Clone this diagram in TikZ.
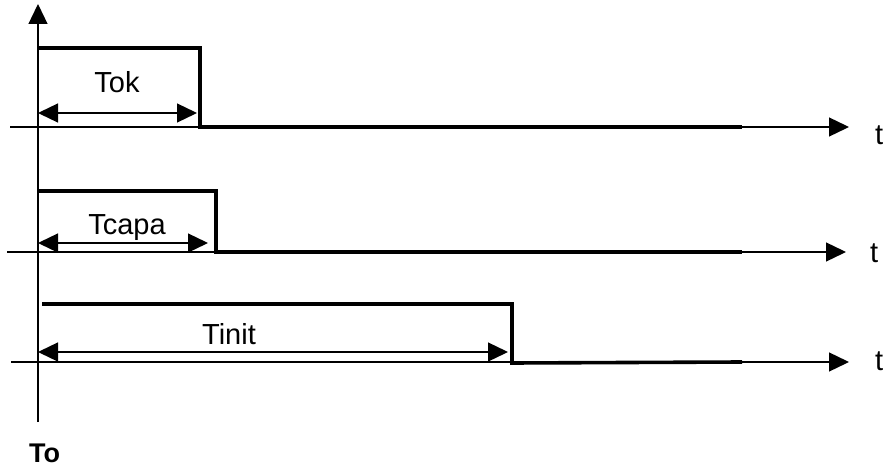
\documentclass[tikz,border=0pt]{standalone}
\usepackage{fontspec}
\setmainfont{Liberation Sans}
\usepackage{tikz}
\usetikzlibrary{arrows.meta, positioning}

\begin{document}
\begin{tikzpicture}[x=1pt, y=-1pt,
				axis/.style={-{Triangle[length=20pt, width=19pt]}, line width=1.3pt},
				signal/.style={line width=3.6pt, line join=miter},
				dim/.style={{Triangle[length=20pt, width=19pt]}-{Triangle[length=20pt, width=19pt]}, line width=1.3pt},
				lbl/.style={font=\fontsize{29}{31}\selectfont, inner sep=0pt}
			]
			\useasboundingbox (0,0) rectangle (884,468);

			% vertical axis
			\coordinate (v0) at (38,422);
			\coordinate (v1) at (38,4);
			\draw[axis] (v0) -- (v1);
			\node[lbl, font=\fontsize{27}{30}\selectfont\bfseries, anchor=base west] (to) at (29,462) {To};

			% time axes
			\coordinate (a1s) at (10,127);  \coordinate (a1e) at (849,127);
			\coordinate (a2s) at (7,252);   \coordinate (a2e) at (846,252);
			\coordinate (a3s) at (11,362);  \coordinate (a3e) at (849,362);
			\draw[axis] (a1s) -- (a1e);
			\draw[axis] (a2s) -- (a2e);
			\draw[axis] (a3s) -- (a3e);
			\node[lbl, anchor=base west] (t1) at (875,145) {t};
			\node[lbl, anchor=base west] (t2) at (870,262) {t};
			\node[lbl, anchor=base west] (t3) at (875,370) {t};

			% signals
			\draw[signal] (38,48) -- (200,48) -- (200,127) -- (742,127);
			\draw[signal] (38,191) -- (216,191) -- (216,252) -- (742,252);
			\draw[signal] (42,304) -- (512,304) -- (512,363) -- (742,362);

			% durations
			\coordinate (d1s) at (38,113);  \coordinate (d1e) at (197,113);
			\coordinate (d2s) at (38,243);  \coordinate (d2e) at (208,243);
			\coordinate (d3s) at (38,352);  \coordinate (d3e) at (508,352);
			\draw[dim] (d1s) -- (d1e);
			\draw[dim] (d2s) -- (d2e);
			\draw[dim] (d3s) -- (d3e);
			\node[lbl, anchor=base] (tok) at (117,93) {Tok};
			\node[lbl, anchor=base] (tcapa) at (127,234) {Tcapa};
			\node[lbl, anchor=base] (tinit) at (229,344) {Tinit};
		\end{tikzpicture}
\end{document}
